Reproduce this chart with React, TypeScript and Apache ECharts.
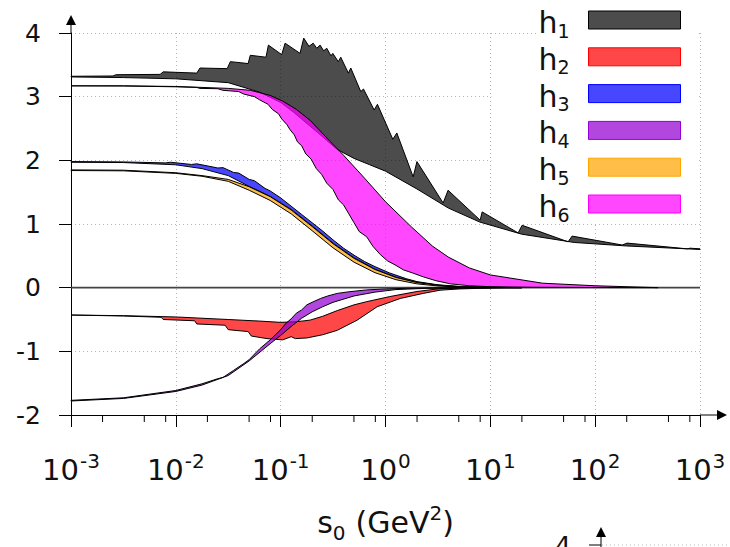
import React, { useEffect, useRef } from 'react';
import * as echarts from 'echarts';

// Each band is stored as [log10(s0 / GeV^2), h] pairs: an upper and a lower edge.
const h1Upper: [number, number][] = [
  [-3, 3.32], [-2.6, 3.325], [-2.57, 3.345], [-2.15, 3.35], [-2.12, 3.39], [-1.8, 3.37], [-1.77, 3.45],
  [-1.51, 3.44], [-1.48, 3.55], [-1.31, 3.52], [-1.29, 3.65], [-1.14, 3.62], [-1.117, 3.81], [-0.99, 3.66],
  [-0.958, 3.84], [-0.815, 3.68], [-0.78, 3.92], [-0.73, 3.79], [-0.69, 3.84], [-0.656, 3.76], [-0.624, 3.81],
  [-0.59, 3.72], [-0.56, 3.76], [-0.52, 3.64], [-0.503, 3.68], [-0.45, 3.55], [-0.427, 3.62], [-0.354, 3.37],
  [-0.331, 3.45], [-0.236, 3.08], [-0.21, 3.12], [-0.108, 2.79], [-0.077, 2.88], [0.07, 2.33], [0.108, 2.43],
  [0.264, 1.74], [0.3, 1.98], [0.55, 1.33], [0.597, 1.53], [0.903, 1.06], [0.922, 1.19], [1.265, 0.86],
  [1.303, 0.98], [1.742, 0.72], [1.78, 0.81], [2.258, 0.67], [2.305, 0.7], [2.878, 0.61], [2.906, 0.62], [3, 0.61],
];
const h1Lower: [number, number][] = [
  [-3, 3.31], [-2.5, 3.3], [-2, 3.28], [-1.5, 3.22], [-1.2, 3.07], [-1.0, 2.91], [-0.88, 2.76], [-0.65, 2.44],
  [-0.46, 2.17], [-0.3, 2.03], [-0.15, 1.93], [0, 1.83], [0.3, 1.55], [0.6, 1.25], [0.9, 1.03], [1.3, 0.84],
  [1.8, 0.71], [2.3, 0.655], [3, 0.6],
];

const h2Upper: [number, number][] = [
  [-3, -0.43], [-2.5, -0.44], [-2, -0.46], [-1.5, -0.5], [-1.2, -0.525], [-1.0, -0.545], [-0.85, -0.535],
  [-0.72, -0.51], [-0.6, -0.45], [-0.46, -0.36], [-0.3, -0.27], [-0.18, -0.22], [0.04, -0.14], [0.3, -0.06],
  [0.52, -0.015], [0.8, -0.004], [1.3, 0],
];
const h2Lower: [number, number][] = [
  [-3, -0.43], [-2.5, -0.445], [-2.14, -0.465], [-2.12, -0.5], [-1.82, -0.52], [-1.8, -0.57], [-1.53, -0.59],
  [-1.5, -0.66], [-1.31, -0.69], [-1.28, -0.76], [-1.13, -0.8], [-0.98, -0.82], [-0.9, -0.77], [-0.86, -0.8],
  [-0.75, -0.79], [-0.6, -0.74], [-0.46, -0.67], [-0.27, -0.51], [-0.08, -0.3], [0.14, -0.17], [0.36, -0.09],
  [0.52, -0.04], [0.7, -0.02], [0.9, -0.01], [1.3, 0],
];

const h3Upper: [number, number][] = [
  [-3, 1.98], [-2.5, 1.975], [-2.1, 1.96], [-2.05, 1.97], [-1.85, 1.935], [-1.8, 1.945], [-1.6, 1.88],
  [-1.55, 1.885], [-1.45, 1.81], [-1.4, 1.8], [-1.3, 1.7], [-1.25, 1.68], [-1.15, 1.56], [-1.1, 1.52],
  [-1.0, 1.41], [-0.9, 1.28], [-0.8, 1.15], [-0.7, 1.02], [-0.6, 0.89], [-0.5, 0.75], [-0.4, 0.62],
  [-0.3, 0.51], [-0.2, 0.41], [-0.1, 0.33], [0.04, 0.23], [0.2, 0.14], [0.3, 0.095], [0.5, 0.045],
  [0.7, 0.02], [1.0, 0.006], [1.3, 0],
];
const h3Lower: [number, number][] = [
  [-3, 1.97], [-2.5, 1.965], [-2, 1.93], [-1.75, 1.87], [-1.5, 1.76], [-1.3, 1.59], [-1.1, 1.435], [-0.9, 1.23],
  [-0.7, 0.97], [-0.5, 0.7], [-0.3, 0.47], [-0.1, 0.29], [0.1, 0.165], [0.3, 0.085], [0.5, 0.04], [0.7, 0.017],
  [1.0, 0.005], [1.3, 0],
];

const h4Upper: [number, number][] = [
  [-3, -1.77], [-2.5, -1.73], [-2, -1.615], [-1.75, -1.51], [-1.6, -1.43], [-1.55, -1.41], [-1.45, -1.3],
  [-1.35, -1.19], [-1.3, -1.13], [-1.2, -0.96], [-1.1, -0.82], [-1.05, -0.74], [-1.0, -0.66], [-0.95, -0.56],
  [-0.9, -0.49], [-0.85, -0.4], [-0.8, -0.35], [-0.75, -0.27], [-0.7, -0.23], [-0.62, -0.17], [-0.55, -0.13],
  [-0.46, -0.09], [-0.35, -0.065], [-0.18, -0.035], [0, -0.02], [0.2, -0.01], [0.5, -0.004], [1.0, 0],
];
const h4Lower: [number, number][] = [
  [-3, -1.78], [-2.5, -1.74], [-2, -1.63], [-1.75, -1.53], [-1.5, -1.38], [-1.3, -1.15], [-1.1, -0.88],
  [-1.0, -0.75], [-0.9, -0.61], [-0.8, -0.48], [-0.7, -0.38], [-0.6, -0.3], [-0.5, -0.23], [-0.3, -0.13],
  [-0.1, -0.07], [0.1, -0.03], [0.4, -0.01], [0.7, -0.003], [1.0, 0],
];

const h5Upper: [number, number][] = [
  [-3, 1.85], [-2.5, 1.845], [-2, 1.805], [-1.75, 1.76], [-1.5, 1.7], [-1.3, 1.585], [-1.1, 1.43], [-0.9, 1.22],
  [-0.7, 0.96], [-0.5, 0.69], [-0.3, 0.46], [-0.1, 0.285], [0.1, 0.16], [0.3, 0.08], [0.5, 0.037], [0.7, 0.015],
  [1.0, 0.004], [1.3, 0],
];
const h5Lower: [number, number][] = [
  [-3, 1.84], [-2.5, 1.835], [-2, 1.795], [-1.75, 1.75], [-1.5, 1.67], [-1.3, 1.53], [-1.1, 1.37], [-0.9, 1.16],
  [-0.7, 0.895], [-0.5, 0.625], [-0.3, 0.4], [-0.1, 0.235], [0.1, 0.125], [0.3, 0.06], [0.5, 0.026], [0.7, 0.01],
  [1.0, 0.002], [1.3, 0],
];

const h6Upper: [number, number][] = [
  [-3, 3.17], [-2.5, 3.17], [-2, 3.16], [-1.5, 3.13], [-1.29, 3.1], [-1.1, 3.02], [-0.98, 2.93], [-0.85, 2.8],
  [-0.72, 2.63], [-0.53, 2.3], [-0.4, 2.08], [-0.2, 1.72], [0, 1.35], [0.25, 0.95], [0.45, 0.65], [0.6, 0.48],
  [0.8, 0.31], [1.0, 0.2], [1.5, 0.07], [2.0, 0.03], [2.6, 0],
];
const h6Lower: [number, number][] = [
  [-3, 3.17], [-2.5, 3.168], [-2, 3.155], [-1.8, 3.145], [-1.77, 3.13], [-1.6, 3.125], [-1.55, 3.1], [-1.4, 3.08],
  [-1.35, 3.04], [-1.25, 3.0], [-1.2, 2.95], [-1.12, 2.88], [-1.08, 2.8], [-1.02, 2.73], [-0.99, 2.65],
  [-0.94, 2.56], [-0.91, 2.48], [-0.87, 2.4], [-0.84, 2.29], [-0.8, 2.23], [-0.76, 2.1], [-0.71, 2.02],
  [-0.66, 1.87], [-0.61, 1.78], [-0.56, 1.64], [-0.5, 1.54], [-0.45, 1.38], [-0.4, 1.3], [-0.35, 1.16],
  [-0.3, 1.02], [-0.25, 0.88], [-0.18, 0.8], [-0.12, 0.65], [-0.05, 0.52], [0.02, 0.42], [0.1, 0.35],
  [0.17, 0.28], [0.26, 0.23], [0.36, 0.17], [0.48, 0.11], [0.62, 0.06], [0.8, 0.03], [1.0, 0.015],
  [1.4, 0.006], [2.0, 0.002], [2.6, 0],
];

const legendNames = ['h1', 'h2', 'h3', 'h4', 'h5', 'h6'];
const yTicks = { min: -2, max: 4, step: 1 };
const xRange = { min: 1e-3, max: 1e3 };
const minorTickMantissas = [2, 5, 8];
const minorTickDecades = [-3, -2, -1, 0, 1, 2];

const FONT = '"DejaVu Sans", Verdana, sans-serif';
const INK = '#111';

type Band = { name: string; upper: [number, number][]; lower: [number, number][]; fill: string; edge: string };

// drawing order: later bands sit on top of earlier ones
const bands: Band[] = [
  { name: 'h1', upper: h1Upper, lower: h1Lower, fill: 'rgba(0,0,0,0.7)', edge: '#000000' },
  { name: 'h6', upper: h6Upper, lower: h6Lower, fill: 'rgba(255,0,255,0.72)', edge: '#ff00ff' },
  { name: 'h3', upper: h3Upper, lower: h3Lower, fill: 'rgba(0,0,255,0.72)', edge: '#0000ff' },
  { name: 'h5', upper: h5Upper, lower: h5Lower, fill: 'rgba(255,165,0,0.72)', edge: '#ffa500' },
  { name: 'h2', upper: h2Upper, lower: h2Lower, fill: 'rgba(255,0,0,0.72)', edge: '#ff0000' },
  { name: 'h4', upper: h4Upper, lower: h4Lower, fill: 'rgba(148,0,211,0.72)', edge: '#9400d3' },
];

function outline(b: Band): number[][] {
  return [...b.upper, ...b.lower.slice().reverse()].map(([lx, v]) => [Math.pow(10, lx), v]);
}

function bandSeries(b: Band) {
  return {
    type: 'custom',
    name: b.name,
    coordinateSystem: 'cartesian2d',
    data: outline(b),
    itemStyle: { color: b.fill },
    silent: true,
    renderItem: (params: any, api: any) => {
      if (params.dataIndexInside !== 0) return null;
      const pts: number[][] = [];
      for (let i = 0; i < params.dataInsideLength; i++) {
        pts.push(api.coord([api.value(0, i), api.value(1, i)]));
      }
      return {
        type: 'polygon',
        shape: { points: pts },
        style: { fill: b.fill, stroke: '#000', lineWidth: 1, lineJoin: 'round' },
      };
    },
  };
}

export default function App() {
  const ref = useRef<HTMLDivElement>(null);

  useEffect(() => {
    if (!ref.current) return;
    const chart = echarts.init(ref.current, null, { renderer: 'svg' });

    const option: any = {
      animation: false,
      backgroundColor: '#fff',
      textStyle: { fontFamily: FONT, color: INK },
      grid: { left: 71, right: 30, top: 33, bottom: 132, containLabel: false, outerBoundsMode: 'none' },
      xAxis: {
        type: 'log',
        logBase: 10,
        min: xRange.min,
        max: xRange.max,
        splitNumber: 6,
        axisLine: { show: true, onZero: false, lineStyle: { color: '#000', width: 1 } },
        axisTick: { show: true, length: 12, lineStyle: { color: '#000', width: 1 } },
        splitLine: { show: true, lineStyle: { color: '#b4b4b4', width: 1, type: [1, 3] } },
        axisLabel: {
          margin: 38,
          formatter: (v: number) => `{b|10}{s|${Math.round(Math.log10(v))}}`,
          rich: {
            b: { fontSize: 29, lineHeight: 29, padding: [5, 0, 0, 0], color: INK, fontFamily: FONT },
            s: { fontSize: 20, lineHeight: 20, padding: [0, 0, 14, 1], color: INK, fontFamily: FONT },
          },
        },
        name: '{a|s}{sub|0}{a|(GeV}{sup|2}{a|)}',
        nameLocation: 'middle',
        nameGap: 91,
        nameTextStyle: {
          rich: {
            a: { fontSize: 30, lineHeight: 32, padding: [8, 0, 8, 0], color: INK, fontFamily: FONT },
            sub: { fontSize: 20, lineHeight: 20, padding: [24.5, 10, 3.5, 0], color: INK, fontFamily: FONT },
            sup: { fontSize: 20, lineHeight: 20, padding: [4.5, 0, 23.5, 0], color: INK, fontFamily: FONT },
          },
        },
      },
      yAxis: {
        type: 'value',
        min: yTicks.min,
        max: yTicks.max,
        interval: yTicks.step,
        axisLine: { show: true, onZero: false, lineStyle: { color: '#000', width: 1 } },
        axisTick: { show: true, length: 12, lineStyle: { color: '#000', width: 1 } },
        splitLine: { show: true, lineStyle: { color: '#b4b4b4', width: 1, type: [1, 3] } },
        axisLabel: { fontSize: 25, margin: 30, color: INK, fontFamily: FONT },
      },
      legend: {
        orient: 'vertical',
        right: 49,
        top: 0,
        padding: 0,
        align: 'right',
        icon: 'rect',
        itemWidth: 92,
        itemHeight: 18,
        itemGap: -3.2,
        selectedMode: false,
        data: legendNames.map((n) => {
          const b = bands.find((x) => x.name === n)!;
          return { name: n, itemStyle: { color: b.fill, borderColor: b.edge, borderWidth: 1 } };
        }),
        formatter: (name: string) => `{h|h}{sub|${name.slice(1)}}`,
        textStyle: {
          rich: {
            h: { fontSize: 30, lineHeight: 35, padding: [5, 0, 0, 0], color: INK, fontFamily: FONT },
            sub: { fontSize: 19, lineHeight: 19, padding: [21, 14, 0, 0], color: INK, fontFamily: FONT },
          },
        },
      },
      series: [
        {
          type: 'line',
          name: 'zero',
          data: [[xRange.min, 0], [xRange.max, 0]],
          symbol: 'none',
          silent: true,
          z: 1,
          lineStyle: { color: '#444', width: 1.6 },
        },
        ...bands.map(bandSeries),
      ],
    };

    chart.setOption(option);

    // axis arrows, minor ticks and the opaque key background, placed from axis coordinates
    const P = (x: number, y: number) => chart.convertToPixel({ gridIndex: 0 }, [x, y]) as number[];
    const [x0, yTop] = P(xRange.min, yTicks.max);
    const [xEnd, yBot] = P(xRange.max, yTicks.min);
    const [xKey] = P(10, yTicks.max);
    const [, yKeyBottom] = P(xRange.max, 1);

    const graphic: any[] = [
      {
        type: 'rect', z: 1, silent: true,
        shape: { x: xKey + 1, y: yTop + 1, width: xEnd - xKey - 2, height: yKeyBottom - yTop - 2 },
        style: { fill: '#fff' },
      },
      {
        type: 'rect', z: 1, silent: true,
        shape: { x: 536, y: yTop - 2, width: xEnd - 537, height: 4 },
        style: { fill: '#fff' },
      },
      { type: 'line', z: 10, silent: true, shape: { x1: x0, y1: yTop, x2: x0, y2: yTop - 10 }, style: { stroke: '#000', lineWidth: 1 } },
      {
        type: 'polygon', z: 10, silent: true,
        shape: { points: [[x0, yTop - 18], [x0 - 5, yTop - 8], [x0 + 5, yTop - 8]] },
        style: { fill: '#000' },
      },
      { type: 'line', z: 10, silent: true, shape: { x1: xEnd, y1: yBot, x2: xEnd + 18, y2: yBot }, style: { stroke: '#000', lineWidth: 1 } },
      {
        type: 'polygon', z: 10, silent: true,
        shape: { points: [[xEnd + 27, yBot], [xEnd + 17, yBot - 5], [xEnd + 17, yBot + 5]] },
        style: { fill: '#000' },
      },
    ];

    minorTickDecades.forEach((d) => {
      minorTickMantissas.forEach((m) => {
        const [px] = P(m * Math.pow(10, d), yTicks.min);
        graphic.push({
          type: 'line', z: 10, silent: true,
          shape: { x1: px, y1: yBot, x2: px, y2: yBot + 7 },
          style: { stroke: '#000', lineWidth: 1 },
        });
      });
    });

    // top edge of the panel below, which reaches into this frame
    graphic.push(
      {
        type: 'text', z: 10, silent: true, x: 571, y: 545,
        style: { text: '4', fontSize: 25, fontFamily: FONT, fill: INK, align: 'right', verticalAlign: 'middle' },
      },
      { type: 'line', z: 10, silent: true, shape: { x1: 601, y1: 547, x2: 601, y2: 535 }, style: { stroke: '#000', lineWidth: 1 } },
      {
        type: 'polygon', z: 10, silent: true,
        shape: { points: [[601, 527], [596, 537], [606, 537]] },
        style: { fill: '#000' },
      },
      { type: 'line', z: 10, silent: true, shape: { x1: 589, y1: 545, x2: 601, y2: 545 }, style: { stroke: '#000', lineWidth: 1 } },
      {
        type: 'line', z: 10, silent: true,
        shape: { x1: 602, y1: 545, x2: 730, y2: 545 },
        style: { stroke: '#b4b4b4', lineWidth: 1, lineDash: [1, 3] },
      },
    );

    chart.setOption({ graphic });

    return () => chart.dispose();
  }, []);

  return (
    <div
      ref={ref}
      style={{ position: 'fixed', left: 0, top: 0, width: 730, height: 547, background: '#fff' }}
    />
  );
}
